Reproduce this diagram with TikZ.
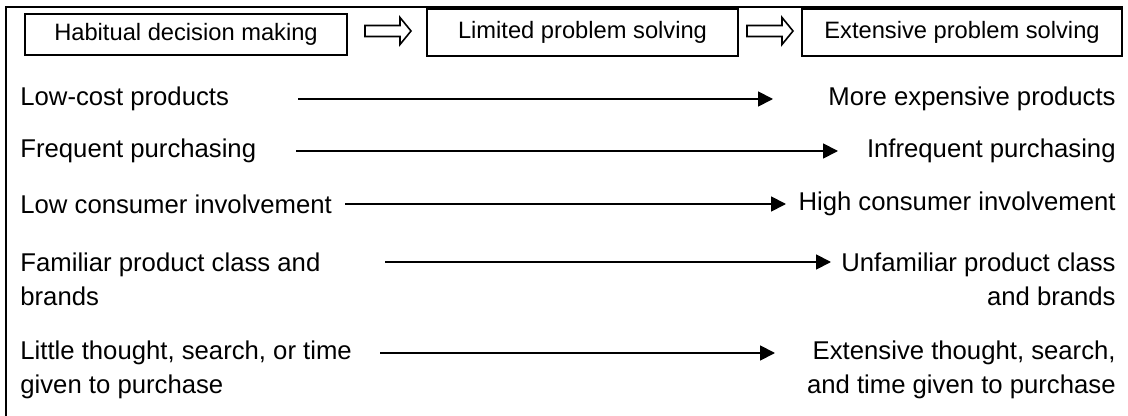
\documentclass[tikz,border=0pt]{standalone}
\usepackage{fontspec}
\setmainfont{Liberation Sans}
\usetikzlibrary{arrows.meta}
\begin{document}
\begin{tikzpicture}[x=0.5pt,y=-0.5pt,
  stage/.style={draw,line width=0.9pt,inner sep=0pt,minimum height=23.5pt,
    font=\fontsize{11.85pt}{14pt}\selectfont},
  hollow/.style={draw,line width=0.8pt,fill=white},
  rowtext/.style={inner sep=0pt,font=\fontsize{12.85pt}{17pt}\selectfont},
  lefttext/.style={rowtext,anchor=west,align=left},
  righttext/.style={rowtext,anchor=east,align=right},
  trend/.style={line width=0.9pt,-{Triangle[length=7.5pt,width=7.5pt]}}]
\useasboundingbox (0,0) rectangle (1128,416);

% open frame: left and top edges
\draw[line width=1pt] (6,416) -- (6,7.5) -- (1123,7.5);

% stages of decision making
\node[stage,minimum width=161pt,minimum height=20.5pt] (s1) at (186,34.5) {Habitual decision making};
\node[stage,minimum width=155.5pt] (s2) at (582.5,32.5) {Limited problem solving};
\node[stage,minimum width=160pt] (s3) at (962,32.5) {Extensive problem solving};

% hollow block arrows between stages
\foreach \ax in {365,747}{
  \draw[hollow] (\ax,25.5) -- (\ax+35,25.5) -- (\ax+35,17.5) -- (\ax+46,31)
    -- (\ax+35,44.5) -- (\ax+35,36.5) -- (\ax,36.5) -- cycle;
}

% row 1
\node[lefttext] (l1) at (20,99) {Low-cost products};
\node[righttext] (r1) at (1116,99) {More expensive products};
\coordinate (a1s) at (298,99); \coordinate (a1e) at (773,99);
\draw[trend] (a1s) -- (a1e);

% row 2
\node[lefttext] (l2) at (20,151) {Frequent purchasing};
\node[righttext] (r2) at (1116,151) {Infrequent purchasing};
\coordinate (a2s) at (296,151); \coordinate (a2e) at (838,151);
\draw[trend] (a2s) -- (a2e);

% row 3
\node[lefttext] (l3) at (20,204) {Low consumer involvement};
\node[righttext] (r3) at (1116,204) {High consumer involvement};
\coordinate (a3s) at (345,204); \coordinate (a3e) at (786,204);
\draw[trend] (a3s) -- (a3e);

% row 4
\node[lefttext] (l4) at (20,279) {Familiar product class and\\brands};
\node[righttext] (r4) at (1116,279) {Unfamiliar product class\\and brands};
\coordinate (a4s) at (385,262); \coordinate (a4e) at (831,262);
\draw[trend] (a4s) -- (a4e);

% row 5
\node[lefttext] (l5) at (20,370) {Little thought, search, or time\\given to purchase};
\node[righttext] (r5) at (1116,370) {Extensive thought, search,\\and time given to purchase};
\coordinate (a5s) at (380,353); \coordinate (a5e) at (775,353);
\draw[trend] (a5s) -- (a5e);
\end{tikzpicture}
\end{document}
